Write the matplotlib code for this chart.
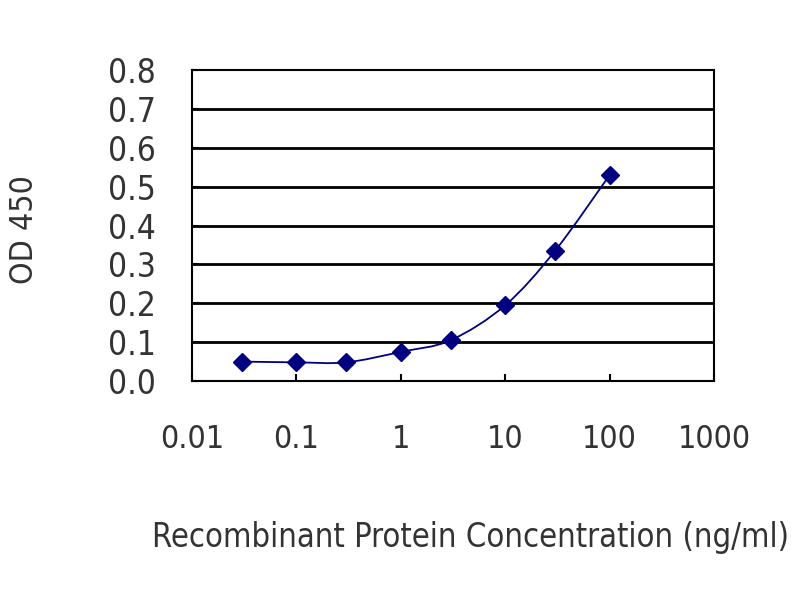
import numpy as np
import matplotlib.pyplot as plt
from matplotlib.path import Path
from matplotlib.patches import PathPatch
from matplotlib import font_manager

# data
conc = [0.03, 0.1, 0.3, 1, 3, 10, 30, 100]
od = [0.050, 0.048, 0.048, 0.075, 0.105, 0.195, 0.335, 0.530]
xticks = [0.01, 0.1, 1, 10, 100, 1000]
xtick_labels = ['0.01', '0.1', '1', '10', '100', '1000']
yticks = [0.0, 0.1, 0.2, 0.3, 0.4, 0.5, 0.6, 0.7, 0.8]

# look for a narrow sans face (the original text is condensed)
narrow = None
for f in font_manager.fontManager.ttflist:
    if 'Narrow' in f.name or 'Condensed' in f.fname or f.stretch in ('condensed', 'semi-condensed'):
        if f.weight in (400, 'normal', 'regular') and f.style == 'normal':
            narrow = f.fname
            break

def fp(size):
    if narrow:
        return font_manager.FontProperties(fname=narrow, size=size)
    return font_manager.FontProperties(family='Liberation Sans', size=size)

navy = '#000080'
txt = '#333333'

fig = plt.figure(figsize=(8, 6), dpi=100)
ax = fig.add_axes([0.24, 0.365, 0.6525, 0.518])
ax.set_xscale('log')
ax.set_xlim(0.01, 1000)
ax.set_ylim(0, 0.8)

# horizontal grid
for y in yticks[1:-1]:
    ax.axhline(y, color='black', lw=2, zorder=1)

# smoothed connecting line (Catmull-Rom in log-x space, like a spreadsheet smooth line)
lx = np.log10(conc)
yy = np.array(od)
verts = [(lx[0], yy[0])]
codes = [Path.MOVETO]
n = len(lx)
for i in range(n - 1):
    p0 = (lx[max(i - 1, 0)], yy[max(i - 1, 0)])
    p1 = (lx[i], yy[i])
    p2 = (lx[i + 1], yy[i + 1])
    p3 = (lx[min(i + 2, n - 1)], yy[min(i + 2, n - 1)])
    c1 = (p1[0] + (p2[0] - p0[0]) / 6, p1[1] + (p2[1] - p0[1]) / 6)
    c2 = (p2[0] - (p3[0] - p1[0]) / 6, p2[1] - (p3[1] - p1[1]) / 6)
    verts += [c1, c2, p2]
    codes += [Path.CURVE4] * 3
verts = [(10 ** vx, vy) for vx, vy in verts]
ax.add_patch(PathPatch(Path(verts, codes), fill=False, edgecolor=navy, lw=1.3, zorder=2))

ax.plot(conc, od, linestyle='none', marker='D', markersize=9, color=navy, zorder=3)

ax.set_xticks(xticks)
ax.set_xticklabels(xtick_labels, fontproperties=fp(23), color=txt)
ax.minorticks_off()
ax.set_yticks(yticks)
ax.set_yticklabels([f'{v:.1f}' for v in yticks], fontproperties=fp(24), color=txt)
ax.tick_params(axis='x', direction='in', length=5, width=1.5, pad=31)
ax.tick_params(axis='y', direction='in', length=5, width=1.5, pad=26)
for s in ax.spines.values():
    s.set_linewidth(1.5)

fig.text(0.031, 0.617, 'OD 450', rotation=90, ha='center', va='center',
         fontproperties=fp(23), color=txt)
fig.text(0.5875, 0.105, 'Recombinant Protein Concentration (ng/ml)', ha='center', va='center',
         fontproperties=fp(23.5), color=txt)

fig.savefig('out.png', dpi=100)
